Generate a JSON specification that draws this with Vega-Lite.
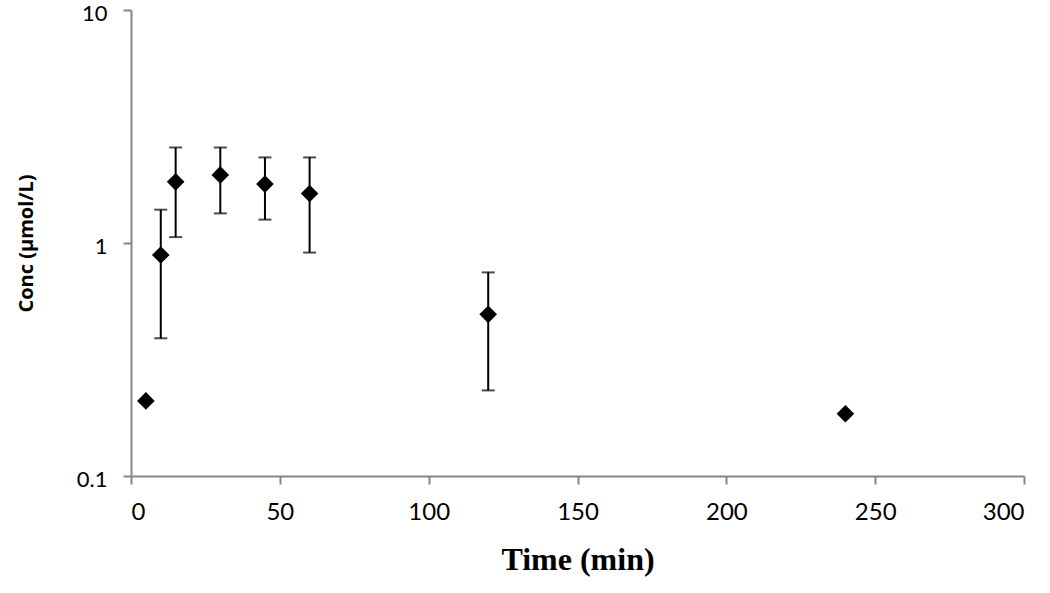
{
  "$schema": "https://vega.github.io/schema/vega-lite/v6.json",
  "width": 893,
  "height": 466,
  "autosize": {"type": "none"},
  "padding": {"left": 131, "top": 10, "right": 26, "bottom": 117},
  "background": "white",
  "config": {"view": {"stroke": null}},
  "data": {
    "values": [
      {"t": 5, "conc": 0.21, "lo": null, "hi": null},
      {"t": 10, "conc": 0.888, "lo": 0.39, "hi": 1.39},
      {"t": 15, "conc": 1.83, "lo": 1.06, "hi": 2.57},
      {"t": 30, "conc": 1.96, "lo": 1.34, "hi": 2.57},
      {"t": 45, "conc": 1.79, "lo": 1.26, "hi": 2.33},
      {"t": 60, "conc": 1.63, "lo": 0.91, "hi": 2.33},
      {"t": 120, "conc": 0.494, "lo": 0.233, "hi": 0.748},
      {"t": 240, "conc": 0.185, "lo": null, "hi": null}
    ]
  },
  "encoding": {
    "x": {
      "field": "t",
      "type": "quantitative",
      "scale": {"domain": [0, 300], "nice": false, "zero": false},
      "axis": {
        "title": "Time (min)",
        "values": [0, 50, 100, 150, 200, 250, 300],
        "grid": false,
        "domainColor": "#868686",
        "domainWidth": 2,
        "tickColor": "#868686",
        "tickWidth": 2,
        "tickSize": 8,
        "labelFont": "Lato",
        "labelFontSize": 24,
        "labelColor": "black",
        "labelPadding": 16,
        "titleFont": "Liberation Serif",
        "titleFontSize": 32,
        "titleFontWeight": "bold",
        "titleColor": "black",
        "titlePadding": 20
      }
    }
  },
  "layer": [
    {
      "transform": [{"filter": "datum.lo != null"}],
      "mark": {
        "type": "errorbar",
        "ticks": {"size": 13, "thickness": 2, "color": "black"},
        "rule": {"strokeWidth": 2, "color": "black"}
      },
      "encoding": {
        "y": {"field": "lo", "type": "quantitative", "title": "Conc (µmol/L)", "scale": {"type": "log", "domain": [0.1, 10], "nice": false}},
        "y2": {"field": "hi"}
      }
    },
    {
      "mark": {"type": "point", "shape": "diamond", "filled": true, "size": 310, "color": "black", "opacity": 1},
      "encoding": {
        "y": {
          "field": "conc",
          "type": "quantitative",
          "title": "Conc (µmol/L)",
          "scale": {"type": "log", "domain": [0.1, 10], "nice": false},
          "axis": {
            "title": "Conc (µmol/L)",
            "values": [0.1, 1, 10],
            "format": "~g",
            "grid": false,
            "domainColor": "#868686",
            "domainWidth": 2,
            "tickColor": "#868686",
            "tickWidth": 2,
            "tickSize": 8,
            "labelFont": "Lato",
            "labelFontSize": 22,
            "labelColor": "black",
            "labelPadding": 16,
            "labelOffset": 3,
            "titleFont": "Open Sans",
            "titleFontSize": 20,
            "titleFontWeight": "bold",
            "titleColor": "black",
            "titlePadding": 40
          }
        }
      }
    }
  ]
}
